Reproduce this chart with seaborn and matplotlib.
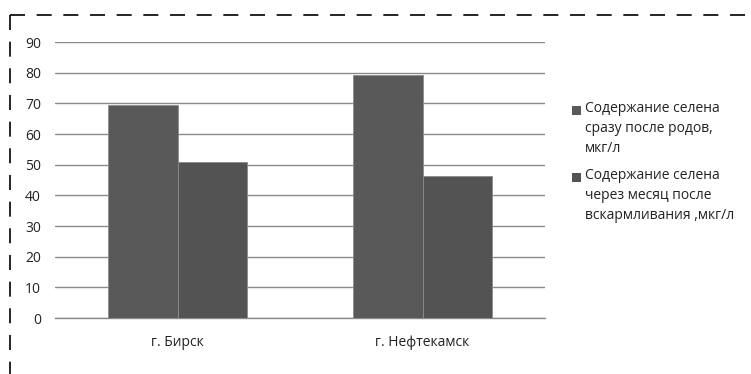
import matplotlib
matplotlib.use("Agg")
import matplotlib.pyplot as plt
from matplotlib.lines import Line2D
from matplotlib.patches import Rectangle
import seaborn as sns
import pandas as pd

cities = ["г. Бирск", "г. Нефтекамск"]
series = ["Содержание селена\nсразу после родов,\nмкг/л",
          "Содержание селена\nчерез месяц после\nвскармливания ,мкг/л"]
after_birth = [69.3, 79.2]
after_month = [50.9, 46.3]
yticks = [0, 10, 20, 30, 40, 50, 60, 70, 80, 90]

df = pd.DataFrame({
    "city": cities * 2,
    "series": [series[0]] * 2 + [series[1]] * 2,
    "value": after_birth + after_month,
})

sns.set_theme(style="white")
plt.rcParams["font.family"] = ["Open Sans", "DejaVu Sans"]

W, H = 751, 374
fig = plt.figure(figsize=(W / 100, H / 100), dpi=100)
ax = fig.add_axes([55 / W, 1 - 318 / H, 490 / W, (318 - 42) / H])

colors = ["#595959", "#535353"]
sns.barplot(data=df, x="city", y="value", hue="series", palette=colors,
            width=0.57, gap=0, saturation=1, ax=ax, legend=False,
            edgecolor="#8c8c8c", linewidth=0.6, zorder=3)

ax.set_ylim(0, 90)
ax.set_xlim(-0.5, 1.5)
ax.set_yticks(yticks)
ax.set_yticklabels([str(v) for v in yticks], fontsize=10, color="#222222")
ax.tick_params(axis="x", labelsize=10, colors="#222222", pad=12, length=0)
ax.tick_params(axis="y", length=0, pad=10)
ax.set_xlabel("")
ax.set_ylabel("")
ax.grid(axis="y", color="#8a8a8a", linewidth=1.0, zorder=0)
ax.set_axisbelow(True)
for side in ["top", "right", "left"]:
    ax.spines[side].set_visible(False)
ax.spines["bottom"].set_color("#8a8a8a")
ax.spines["bottom"].set_linewidth(1.0)

# legend: square marker beside the first line of each wrapped label
legend_tops = [101, 168]
for label, color, top in zip(series, colors, legend_tops):
    fig.add_artist(Rectangle((572 / W, 1 - (top + 14) / H), 9 / W, 9 / H,
                             transform=fig.transFigure, facecolor=color,
                             edgecolor="none"))
    fig.text(585 / W, 1 - top / H, label, fontsize=10, color="#222222",
             va="top", ha="left", linespacing=1.45)

# dashed frame along top and left edges
dash = dict(color="black", linewidth=1.2, linestyle=(0, (9, 7)), transform=fig.transFigure)
fig.add_artist(Line2D([10 / W, 1.0], [1 - 15 / H, 1 - 15 / H], **dash))
fig.add_artist(Line2D([10 / W, 10 / W], [1 - 15 / H, 0.0], **dash))

fig.savefig("out.png", dpi=100)
